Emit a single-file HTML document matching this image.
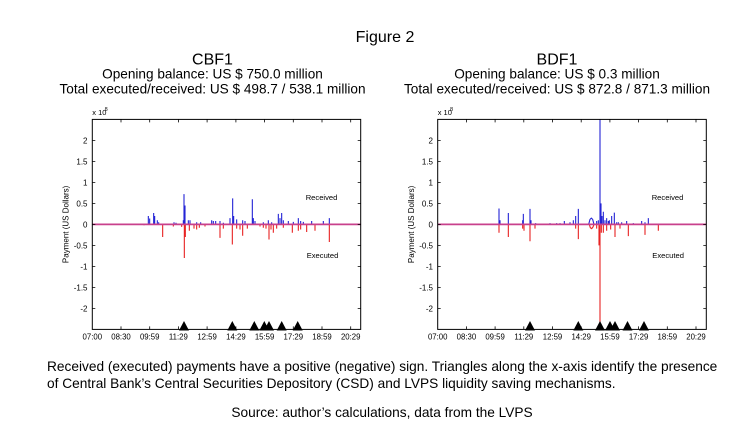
<!DOCTYPE html>
<html><head><meta charset="utf-8"><style>
html,body{margin:0;padding:0;background:#fff;}
svg{display:block;}
text{font-family:"Liberation Sans",Arial,sans-serif;fill:#000;}
</style></head><body>
<svg width="756" height="445" viewBox="0 0 756 445" xmlns="http://www.w3.org/2000/svg">
<rect width="756" height="445" fill="#fff"/>

<!-- Titles -->
<text x="385" y="42" font-size="16" text-anchor="middle">Figure 2</text>
<text x="212.5" y="64.5" font-size="16" text-anchor="middle">CBF1</text>
<text x="212.5" y="78.5" font-size="13.6" text-anchor="middle">Opening balance: US $ 750.0 million</text>
<text x="212.5" y="93.5" font-size="13.6" text-anchor="middle">Total executed/received: US $ 498.7 / 538.1 million</text>
<text x="557" y="64.5" font-size="16" text-anchor="middle">BDF1</text>
<text x="557" y="78.5" font-size="13.6" text-anchor="middle">Opening balance: US $ 0.3 million</text>
<text x="557" y="93.5" font-size="13.6" text-anchor="middle">Total executed/received: US $ 872.8 / 871.3 million</text>

<!-- Bottom notes -->
<text x="47" y="371" font-size="13.7">Received (executed) payments have a positive (negative) sign. Triangles along the x-axis identify the presence</text>
<text x="47" y="388" font-size="13.7">of Central Bank’s Central Securities Depository (CSD) and LVPS liquidity saving mechanisms.</text>
<text x="382" y="417" font-size="13.7" text-anchor="middle">Source: author’s calculations, data from the LVPS</text>

<!-- ================= LEFT CHART ================= -->
<g>
  <g transform="translate(50,224.4) scale(0.333333,-42)" fill="none">
    <path vector-effect="non-scaling-stroke" stroke="#2424d6" stroke-width="1.1"
      d="M262 0V0.02M295 0V0.2M299 0V0.14M311 0V0.27M314 0V0.2M322 0V0.1M326 0V0.05M372 0V0.05M378 0V0.04M400 0V0.1M402 0V0.72M405 0V0.45M415 0V0.1M420 0V0.1M440 0V0.05M452 0V0.05M485 0V0.1M490 0V0.08M497 0V0.08M510 0V0.08M520 0V0.04M540 0V0.15M548 0V0.62M551 0V0.2M560 0V0.12M578 0V0.1M585 0V0.08M607 0V0.6M610 0V0.15M615 0V0.08M640 0V0.05M655 0V0.1M665 0V0.05M685 0V0.25M690 0V0.15M695 0V0.27M700 0V0.1M715 0V0.08M730 0V0.06M745 0V0.15M752 0V0.08M760 0V0.06M785 0V0.08M820 0V0.08M838 0V0.15"/>
    <path vector-effect="non-scaling-stroke" stroke="#e82222" stroke-width="1.1"
      d="M282 0V-0.02M338 0V-0.3M370 0V-0.05M395 0V-0.06M403 0V-0.8M406 0V-0.3M418 0V-0.15M432 0V-0.1M440 0V-0.12M448 0V-0.08M465 0V-0.05M510 0V-0.32M520 0V-0.1M547 0V-0.48M560 0V-0.1M570 0V-0.12M578 0V-0.27M592 0V-0.1M630 0V-0.05M640 0V-0.08M648 0V-0.1M657 0V-0.36M663 0V-0.12M670 0V-0.2M680 0V-0.1M700 0V-0.08M727 0V-0.2M745 0V-0.15M752 0V-0.12M770 0V-0.18M795 0V-0.15M838 0V-0.42"/>
  </g>
  <line x1="92.3" y1="224.4" x2="360.7" y2="224.4" stroke="#c8408c" stroke-width="1.8"/>
  <rect x="92.3" y="119.4" width="268.4" height="210" fill="none" stroke="#000" stroke-width="1"/>
  <path stroke="#000" stroke-width="0.8" fill="none"
    d="M121 329.4v-3M149.7 329.4v-3M178.4 329.4v-3M207.1 329.4v-3M235.9 329.4v-3M264.6 329.4v-3M293.3 329.4v-3M322 329.4v-3M350.7 329.4v-3
       M121 119.4v3M149.7 119.4v3M178.4 119.4v3M207.1 119.4v3M235.9 119.4v3M264.6 119.4v3M293.3 119.4v3M322 119.4v3M350.7 119.4v3
       M92.3 308.4h3M92.3 287.4h3M92.3 266.4h3M92.3 245.4h3M92.3 224.4h3M92.3 203.4h3M92.3 182.4h3M92.3 161.4h3M92.3 140.4h3
       M360.7 308.4h-3M360.7 287.4h-3M360.7 266.4h-3M360.7 245.4h-3M360.7 224.4h-3M360.7 203.4h-3M360.7 182.4h-3M360.7 161.4h-3M360.7 140.4h-3"/>
  <g font-size="8" text-anchor="end">
    <text x="87.5" y="311.4">-2</text>
    <text x="87.5" y="290.4">-1.5</text>
    <text x="87.5" y="269.4">-1</text>
    <text x="87.5" y="248.4">-0.5</text>
    <text x="87.5" y="227.4">0</text>
    <text x="87.5" y="206.4">0.5</text>
    <text x="87.5" y="185.4">1</text>
    <text x="87.5" y="164.4">1.5</text>
    <text x="87.5" y="143.4">2</text>
  </g>
  <g font-size="7.8" text-anchor="middle">
    <text x="92.3" y="339.5">07:00</text>
    <text x="121" y="339.5">08:30</text>
    <text x="149.7" y="339.5">09:59</text>
    <text x="178.4" y="339.5">11:29</text>
    <text x="207.1" y="339.5">12:59</text>
    <text x="235.9" y="339.5">14:29</text>
    <text x="264.6" y="339.5">15:59</text>
    <text x="293.3" y="339.5">17:29</text>
    <text x="322" y="339.5">18:59</text>
    <text x="350.7" y="339.5">20:29</text>
  </g>
  <text x="92.3" y="115" font-size="7.5">x 10</text>
  <text x="104.6" y="111" font-size="5.5">8</text>
  <text transform="translate(68.5,224.4) rotate(-90)" font-size="8" text-anchor="middle">Payment (US Dollars)</text>
  <text x="305.7" y="200" font-size="7.6">Received</text>
  <text x="306.7" y="258" font-size="7.6">Executed</text>
  <path fill="#000" d="M184 321l5 9.5h-10zM232.3 321l5 9.5h-10zM254.3 321l5 9.5h-10zM264.3 321l5 9.5h-10zM269 321l5 9.5h-10zM281.7 321l5 9.5h-10zM297.7 321l5 9.5h-10z"/>
</g>

<!-- ================= RIGHT CHART ================= -->
<g>
  <g transform="translate(400,224.4) scale(0.333333,-42)" fill="none">
    <path vector-effect="non-scaling-stroke" stroke="#2424d6" stroke-width="1.1"
      d="M297 0V0.38M300 0V0.1M325 0V0.27M368 0V0.1M370 0V0.25M390 0V0.37M393 0V0.1M407 0V0.03M440 0V0.02M450 0V0.03M462 0V0.02M470 0V0.03M480 0V0.03M493 0V0.08M510 0V0.05M520 0V0.1M527 0V0.2M535 0V0.37M590 0V0.08M595 0V0.1M600 0V2.5M603 0V0.5M606 0V0.2M610 0V0.3M615 0V0.1M620 0V0.15M625 0V0.08M628 0V0.1M635 0V0.2M643 0V0.28M650 0V0.05M655 0V0.05M665 0V0.05M680 0V0.08M700 0V0.03M710 0V0.02M725 0V0.08M735 0V0.05M745 0V0.15
         M566 0L570 0.12L574 0.15L578 0.12L582 0"/>
    <path vector-effect="non-scaling-stroke" stroke="#e82222" stroke-width="1.1"
      d="M297 0V-0.2M325 0V-0.3M368 0V-0.1M372 0V-0.15M390 0V-0.4M405 0V-0.1M527 0V-0.1M535 0V-0.35M590 0V-0.1M597 0V-0.5M600 0V-2.5M604 0V-0.2M610 0V-0.2M620 0V-0.15M632 0V-0.12M645 0V-0.3M660 0V-0.1M685 0V-0.28M735 0V-0.25M775 0V-0.15
         M568 0L571 -0.08L575 -0.1L579 -0.06L582 0"/>
  </g>
  <line x1="437.7" y1="224.4" x2="706.3" y2="224.4" stroke="#c8408c" stroke-width="1.8"/>
  <rect x="437.7" y="119.4" width="268.6" height="210" fill="none" stroke="#000" stroke-width="1"/>
  <path stroke="#000" stroke-width="0.8" fill="none"
    d="M466.4 329.4v-3M495.1 329.4v-3M523.8 329.4v-3M552.5 329.4v-3M581.2 329.4v-3M609.9 329.4v-3M638.6 329.4v-3M667.3 329.4v-3M696 329.4v-3
       M466.4 119.4v3M495.1 119.4v3M523.8 119.4v3M552.5 119.4v3M581.2 119.4v3M609.9 119.4v3M638.6 119.4v3M667.3 119.4v3M696 119.4v3
       M437.7 308.4h3M437.7 287.4h3M437.7 266.4h3M437.7 245.4h3M437.7 224.4h3M437.7 203.4h3M437.7 182.4h3M437.7 161.4h3M437.7 140.4h3
       M706.3 308.4h-3M706.3 287.4h-3M706.3 266.4h-3M706.3 245.4h-3M706.3 224.4h-3M706.3 203.4h-3M706.3 182.4h-3M706.3 161.4h-3M706.3 140.4h-3"/>
  <g font-size="8" text-anchor="end">
    <text x="433" y="311.4">-2</text>
    <text x="433" y="290.4">-1.5</text>
    <text x="433" y="269.4">-1</text>
    <text x="433" y="248.4">-0.5</text>
    <text x="433" y="227.4">0</text>
    <text x="433" y="206.4">0.5</text>
    <text x="433" y="185.4">1</text>
    <text x="433" y="164.4">1.5</text>
    <text x="433" y="143.4">2</text>
  </g>
  <g font-size="7.8" text-anchor="middle">
    <text x="437.7" y="339.5">07:00</text>
    <text x="466.4" y="339.5">08:30</text>
    <text x="495.1" y="339.5">09:59</text>
    <text x="523.8" y="339.5">11:29</text>
    <text x="552.5" y="339.5">12:59</text>
    <text x="581.2" y="339.5">14:29</text>
    <text x="609.9" y="339.5">15:59</text>
    <text x="638.6" y="339.5">17:29</text>
    <text x="667.3" y="339.5">18:59</text>
    <text x="696" y="339.5">20:29</text>
  </g>
  <text x="437.7" y="115" font-size="7.5">x 10</text>
  <text x="450" y="111" font-size="5.5">8</text>
  <text transform="translate(413.9,224.4) rotate(-90)" font-size="8" text-anchor="middle">Payment (US Dollars)</text>
  <text x="651.7" y="200" font-size="7.6">Received</text>
  <text x="652.3" y="258" font-size="7.6">Executed</text>
  <path fill="#000" d="M530 321l5 9.5h-10zM578.3 321l5 9.5h-10zM600 321l5 9.5h-10zM610 321l5 9.5h-10zM615 321l5 9.5h-10zM627.5 321l5 9.5h-10zM644 321l5 9.5h-10z"/>
</g>
</svg>
</body></html>
